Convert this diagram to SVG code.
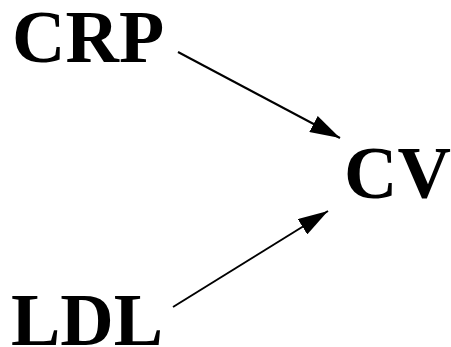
<svg xmlns="http://www.w3.org/2000/svg" width="451" height="347" viewBox="0 0 451 347">
<style>
.lbl{font-family:"Liberation Serif","Times New Roman",serif;font-weight:bold;font-size:74px;fill:#000}
.edge{stroke:#000;stroke-width:2;fill:none}
</style>
<defs>
<marker id="ah" markerUnits="userSpaceOnUse" markerWidth="30" markerHeight="18" refX="30" refY="9" orient="auto" viewBox="0 0 30 18">
<path d="M0,0 L30,9 L0,18 z" fill="#000"/>
</marker>
</defs>
<rect width="451" height="347" fill="#fff"/>
<g id="connectors">
<line class="edge" x1="178" y1="52" x2="340" y2="138" marker-end="url(#ah)"/>
<line class="edge" x1="173" y1="307" x2="328" y2="211" marker-end="url(#ah)"/>
</g>
<g id="CRP"><text class="lbl" x="12" y="62">CRP</text></g>
<g id="CV"><text class="lbl" x="344" y="198">CV</text></g>
<g id="LDL"><text class="lbl" x="11" y="345">LDL</text></g>
</svg>
